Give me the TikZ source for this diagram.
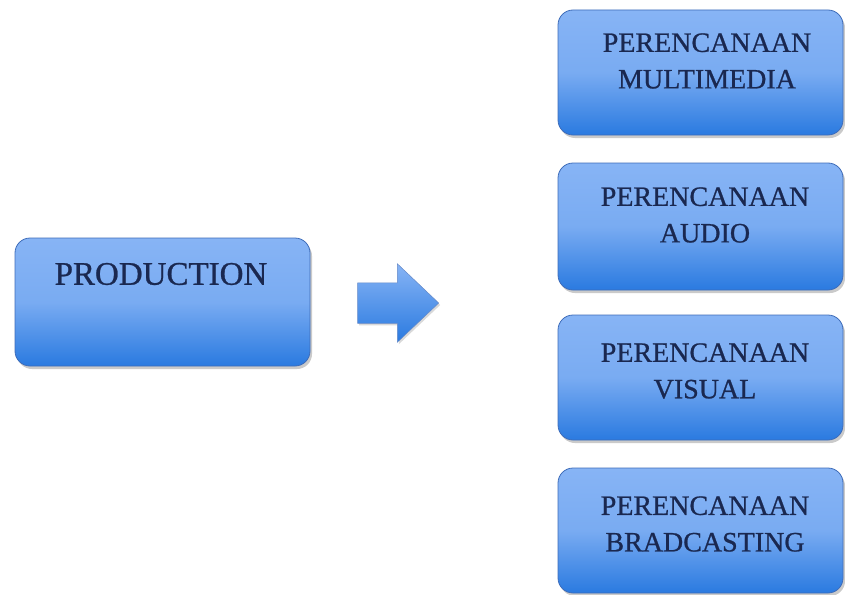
\documentclass[tikz,border=0pt]{standalone}
\usepackage{fontspec}
\setmainfont{Liberation Serif}[FakeBold=0.8]
\usetikzlibrary{shapes.arrows,shadows}
\definecolor{boxtop}{RGB}{135,180,245}
\definecolor{boxbot}{RGB}{42,122,224}
\definecolor{boxline}{RGB}{62,108,185}
\definecolor{txtcol}{RGB}{26,40,80}
\tikzset{
  bluebox/.style={draw=boxline, line width=0.8pt, rounded corners=15pt,
    top color=boxtop, bottom color=boxbot, middle color=boxtop!85!boxbot,
    drop shadow={shadow xshift=2pt, shadow yshift=-3pt, opacity=0.35, fill=black!60},
    inner sep=0pt},
  bigtxt/.style={text=txtcol, font=\fontsize{33}{36}\selectfont, inner sep=0pt},
  smalltxt/.style={text=txtcol, font=\fontsize{28}{36.5}\selectfont, align=center, inner sep=0pt},
  blockarrow/.style={single arrow, draw=boxline!80, line width=0.5pt,
    top color=boxtop, bottom color=boxbot,
    minimum height=81pt, minimum width=78pt, single arrow head extend=19pt,
    single arrow tip angle=87, single arrow head indent=0pt,
    inner xsep=0pt, inner ysep=20pt,
    drop shadow={shadow xshift=1.5pt, shadow yshift=-2pt, opacity=0.25, fill=black!60}}
}
\begin{document}
\begin{tikzpicture}[x=1pt,y=-1pt]
\useasboundingbox (0,0) rectangle (845,594);
% left box
\node[bluebox, minimum width=295pt, minimum height=128pt] (prod) at (162.5,302) {};
\node[bigtxt] (prodtxt) at (161,274) {PRODUCTION};
% arrow
\node[blockarrow] (arr) at (387.5,303) {};
% right boxes
\node[bluebox, minimum width=285pt, minimum height=125pt] (b1) at (700.5,72.5) {};
\node[bluebox, minimum width=285pt, minimum height=127pt] (b2) at (700.5,226.5) {};
\node[bluebox, minimum width=285pt, minimum height=125pt] (b3) at (700.5,377.5) {};
\node[bluebox, minimum width=285pt, minimum height=125pt] (b4) at (700.5,530.5) {};
\node[smalltxt] (t1) at (707,61) {PERENCANAAN\\MULTIMEDIA};
\node[smalltxt] (t2) at (705,215) {PERENCANAAN\\AUDIO};
\node[smalltxt] (t3) at (705,371) {PERENCANAAN\\VISUAL};
\node[smalltxt] (t4) at (705,524) {PERENCANAAN\\BRADCASTING};
\end{tikzpicture}
\end{document}
